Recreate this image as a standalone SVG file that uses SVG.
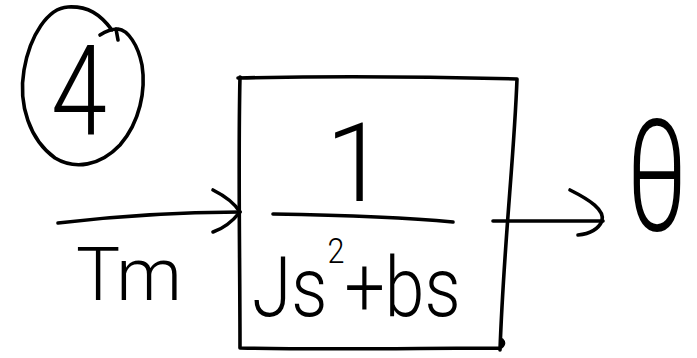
<svg xmlns="http://www.w3.org/2000/svg" width="697" height="358" viewBox="0 0 697 358">
  <style>
    .ink { fill: none; stroke: #000; stroke-width: 3.6; stroke-linecap: round; stroke-linejoin: round; }
    .hand { font-family: "Roboto", "Liberation Sans", sans-serif; font-weight: 300; fill: #000; }
  </style>
  <rect width="697" height="358" fill="#fff"/>

  <!-- circled item number -->
  <g id="item-number">
    <path class="ink" d="M112,30 C100,14 88,6 68,7 C48,8 30,35 24,70 C18,105 30,140 55,158 C75,170 100,166 120,145 C140,122 146,90 142,65 C138,45 128,30 118,29 C110,29 103,33 100,35"/>
    <path class="ink" d="M116,29 L118,40"/>
    <text class="hand" x="79" y="135" font-size="126" text-anchor="middle" transform="translate(79 0) scale(0.8 1) translate(-79 0)">4</text>
  </g>

  <!-- transfer-function block: 1 / (Js^2 + bs) -->
  <g id="block">
    <path class="ink" d="M238,78 C330,76 440,77 517,79 C514,160 504,240 500,350 M240,77 C238,160 240,260 240,348 C330,350 420,348 500,348 C503,346 505,343 502,340"/>
    <text class="hand" x="356" y="201" font-size="110" text-anchor="middle">1</text>
    <path class="ink" d="M273,214 C330,215 400,217 453,222"/>
    <text class="hand" font-size="84" transform="translate(252 316) scale(0.85 1)">Js<tspan dy="-53" font-size="36">2</tspan><tspan dy="53">+bs</tspan></text>
  </g>

  <!-- input and output signals -->
  <g id="input-signal">
    <text class="hand" x="76" y="300" font-size="74">Tm</text>
  </g>
  <g id="output-signal">
    <text class="hand" font-size="112" text-anchor="middle" transform="translate(657 230) scale(0.95 1.4)">θ</text>
  </g>

  <g id="connectors">
    <path class="ink" d="M58,223 C100,218 160,212 240,212"/>
    <path class="ink" d="M213,190 C225,196 235,204 240,212 C232,222 222,229 213,232"/>
    <path class="ink" d="M493,221 L603,221"/>
    <path class="ink" d="M570,190 C590,200 605,210 602,221 C598,230 588,234 578,235"/>
  </g>
</svg>
